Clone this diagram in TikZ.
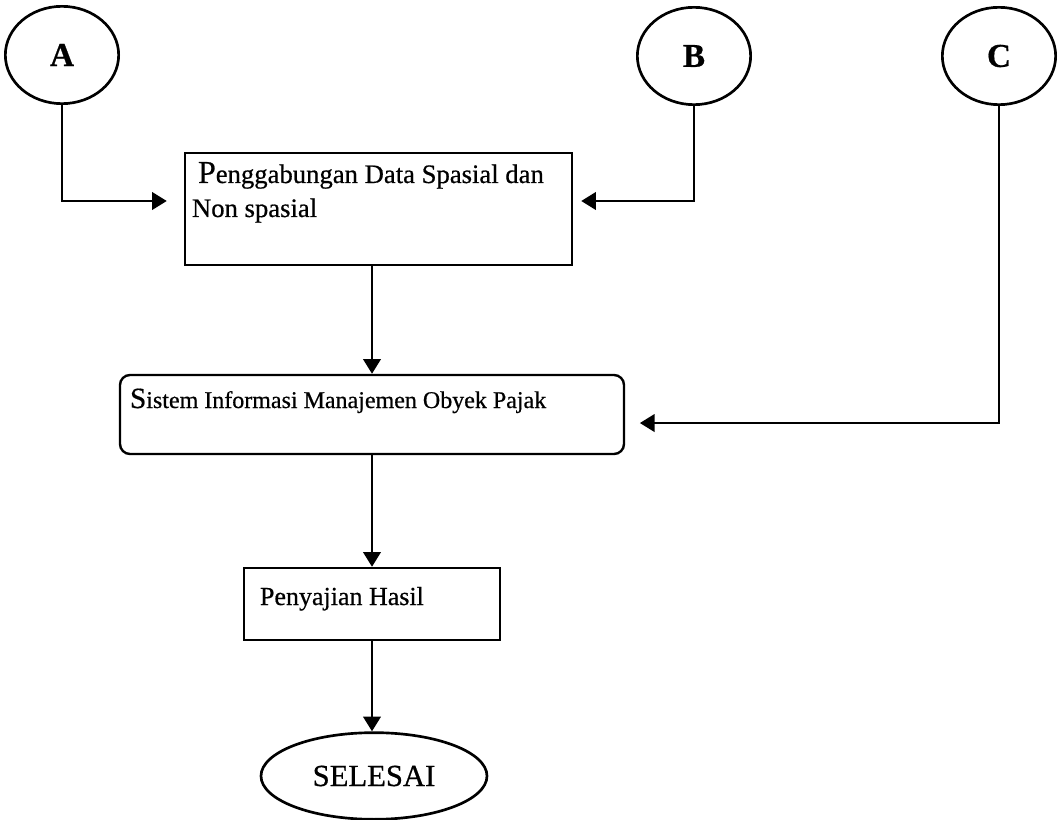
\documentclass[tikz,border=0pt]{standalone}
\usepackage{fontspec}
\setmainfont[FakeBold=0.6]{Liberation Serif}
\usetikzlibrary{arrows.meta,shapes.geometric}
\tikzset{
  conn/.style={ellipse, draw, line width=2pt, inner sep=0pt, minimum width=85pt, minimum height=73pt, font=\fontsize{25}{25}\selectfont\bfseries},
  stepbox/.style={draw, line width=1.8pt, inner sep=0pt},
  endnode/.style={ellipse, draw, line width=2pt, inner sep=0pt, minimum width=169.5pt, minimum height=65pt, font=\fontsize{23}{23}\selectfont},
  arr/.style={line width=2pt, -{Triangle[length=11pt,width=13pt]}},
}
\begin{document}
\begin{tikzpicture}[x=0.75pt,y=-0.75pt]
\useasboundingbox (0,0) rectangle (1058,820);
\node[conn] (A) at (62,55) {A};
\node[conn] (B) at (694,56) {B};
\node[conn] (C) at (999,56) {C};
\node[stepbox] (p1) at (378.5,209) {\parbox[t][84pt][t]{290.25pt}{\fontsize{20}{25.5}\selectfont\rule{0pt}{22.5pt}\hspace*{9.75pt}{\fontsize{24}{24}\selectfont P}enggabungan Data Spasial dan\\\hspace*{5.25pt}Non spasial}};
\node[stepbox, rounded corners=7.5pt] (p2) at (372,414.5) {\parbox[t][59.25pt][t]{378pt}{\fontsize{18}{22}\selectfont\rule{0pt}{24.75pt}\hspace*{7.5pt}{\fontsize{22}{22}\selectfont S}istem Informasi Manajemen Obyek Pajak}};
\node[stepbox] (p3) at (372,604) {\parbox[t][54pt][t]{192pt}{\fontsize{19.5}{24}\selectfont\rule{0pt}{27.75pt}\hspace*{12pt}Penyajian Hasil}};
\node[endnode] (sel) at (374,776) {SELESAI};
\draw[arr, shorten >=12.75pt] (A.south) |- ([yshift=6pt]p1.west);
\draw[arr, shorten >=6pt] (B.south) |- ([yshift=6pt]p1.east);
\draw[arr] (p1.south -| p2.north) -- (p2.north);
\draw[arr, shorten >=11pt] (C.south) |- ([yshift=-6.4pt]p2.east);
\draw[arr] (p2.south) -- (p3.north);
\draw[arr] (p3.south) -- (p3.south |- sel.north);
\end{tikzpicture}
\end{document}
